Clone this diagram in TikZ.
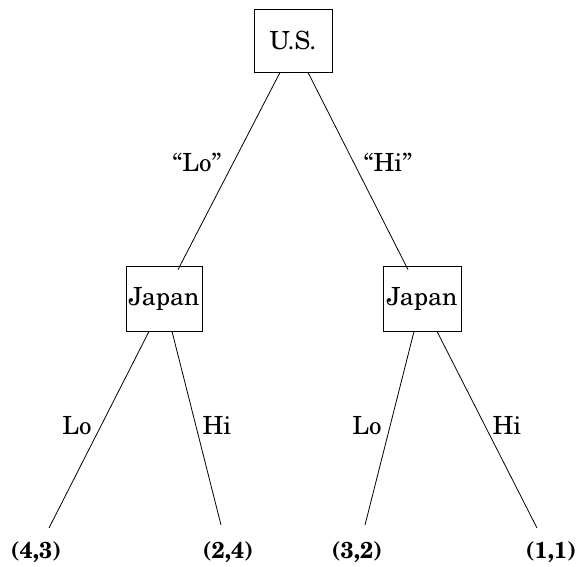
\documentclass[tikz,border=0pt]{standalone}
\usepackage[T1]{fontenc}
\renewcommand{\rmdefault}{pnc}
\begin{document}
\begin{tikzpicture}[x=1pt,y=-1pt,
  player/.style={draw,line width=0.8pt,inner sep=0pt,font=\fontsize{25}{30}\selectfont},
  movelabel/.style={inner sep=0pt,font=\fontsize{25}{30}\selectfont},
  payoff/.style={inner sep=0pt,font=\fontsize{23}{27}\selectfont\bfseries},
  branch/.style={line width=0.8pt}]
\useasboundingbox (0,0) rectangle (577,566);
% decision nodes
\node[player,minimum width=78,minimum height=63] (us) at (293,40.5) {U.S.};
\node[player,minimum width=76,minimum height=65] (jl) at (164,298.5) {Japan};
\node[player,minimum width=78,minimum height=65] (jr) at (422,298.5) {Japan};
% terminal payoffs
\node[payoff] (p1) at (36,552) {(4,3)};
\node[payoff] (p2) at (228,552) {(2,4)};
\node[payoff] (p3) at (357,552) {(3,2)};
\node[payoff] (p4) at (551,552) {(1,1)};
% first-stage moves
\draw[branch] ([xshift=-13]us.south) -- ([xshift=14,yshift=-4]jl.north);
\draw[branch] ([xshift=15]us.south) -- ([xshift=-14,yshift=-4]jr.north);
\node[movelabel] (ulo) at (197,162) {``Lo''};
\node[movelabel] (uhi) at (388,162) {``Hi''};
% second-stage moves
\draw[branch] ([xshift=-15]jl.south) -- ([xshift=13,yshift=24]p1.center);
\draw[branch] ([xshift=8]jl.south) -- ([xshift=-7,yshift=27]p2.center);
\draw[branch] ([xshift=-8]jr.south) -- ([xshift=8,yshift=27]p3.center);
\draw[branch] ([xshift=15]jr.south) -- ([xshift=-14,yshift=24]p4.center);
\node[movelabel] (llo) at (77,425) {Lo};
\node[movelabel] (lhi) at (217,425) {Hi};
\node[movelabel] (rlo) at (367,425) {Lo};
\node[movelabel] (rhi) at (507,425) {Hi};
\end{tikzpicture}
\end{document}
